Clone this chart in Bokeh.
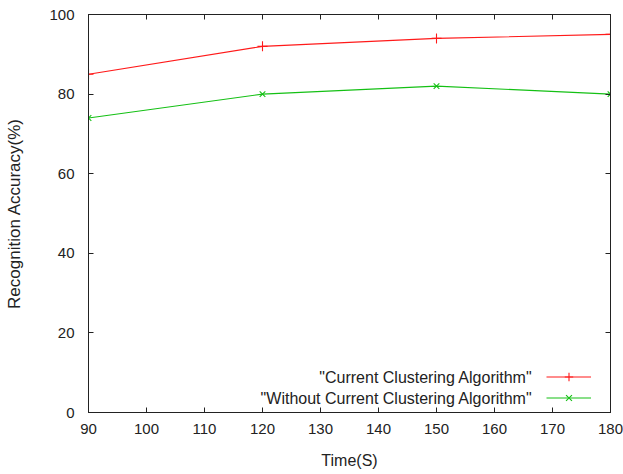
from bokeh.plotting import figure
from bokeh.models import LinearAxis, Range1d, Legend, LegendItem, Label, FixedTicker
from bokeh.embed import file_html
from bokeh.resources import INLINE

time_s = [90, 120, 150, 180]
current_alg = [85, 92, 94, 95]
without_alg = [74, 80, 82, 80]
x_ticks = [90, 100, 110, 120, 130, 140, 150, 160, 170, 180]
y_ticks = [0, 20, 40, 60, 80, 100]
series_names = ['"Current Clustering Algorithm"', '"Without Current Clustering Algorithm"']

FONT = "Liberation Sans"
FS = "15px"
TXT = "#222222"
AX = "#222222"

p = figure(width=623, height=474, output_backend="svg", toolbar_location=None,
           x_range=Range1d(90, 180), y_range=Range1d(0, 100),
           min_border_left=88, min_border_right=13, min_border_top=14, min_border_bottom=62)
p.xgrid.visible = False
p.ygrid.visible = False
p.outline_line_color = AX
p.outline_line_width = 1
p.background_fill_color = "white"
p.border_fill_color = "white"

xa = p.xaxis[0]
ya = p.yaxis[0]
xa.ticker = FixedTicker(ticks=x_ticks)
ya.ticker = FixedTicker(ticks=y_ticks)
for ax in (xa, ya):
    ax.major_tick_in = 5
    ax.major_tick_out = 0
    ax.minor_tick_line_color = None
    ax.axis_line_color = AX
    ax.major_tick_line_color = AX
    ax.major_label_text_font = FONT
    ax.major_label_text_font_size = FS
    ax.major_label_text_color = TXT
    ax.axis_label_text_font = FONT
    ax.axis_label_text_font_style = "normal"
    ax.axis_label_text_color = TXT
xa.axis_label_text_font_size = "16px"
ya.axis_label_text_font_size = "17px"
xa.axis_label = "Time(S)"
ya.axis_label = "Recognition Accuracy(%)"
xa.major_label_standoff = 11
ya.major_label_standoff = 14
xa.axis_label_standoff = 15
ya.axis_label_standoff = 22

top = LinearAxis(ticker=FixedTicker(ticks=x_ticks))
right = LinearAxis(ticker=FixedTicker(ticks=y_ticks))
for ax in (top, right):
    ax.major_tick_in = 5
    ax.major_tick_out = 0
    ax.minor_tick_line_color = None
    ax.axis_line_color = AX
    ax.major_tick_line_color = AX
    ax.major_label_text_font_size = "1px"
    ax.major_label_text_color = None
    ax.major_label_standoff = 0
p.add_layout(top, "above")
p.add_layout(right, "right")

r1 = p.line(time_s, current_alg, line_color="#ff1a1a", line_width=1.1)
m1 = p.scatter(time_s, current_alg, marker="cross", size=10, line_color="#ff1a1a", line_width=1.1)
r2 = p.line(time_s, without_alg, line_color="#14c014", line_width=1.1)
m2 = p.scatter(time_s, without_alg, marker="x", size=8, line_color="#14c014", line_width=1.1)

legend = Legend(items=[LegendItem(label=" ", renderers=[r1, m1]),
                       LegendItem(label=" ", renderers=[r2, m2])],
                location=(458, 4), glyph_width=45, glyph_height=21, spacing=0,
                padding=0, margin=0, label_width=0, label_standoff=0,
                border_line_color=None, background_fill_alpha=0,
                label_text_font_size="1px", label_text_color=None)
p.add_layout(legend, "center")

for i, name in enumerate(series_names):
    p.add_layout(Label(x=444, y=35 - 21 * i, x_units="screen", y_units="screen",
                       text=name, text_align="right", text_baseline="middle",
                       text_font=FONT, text_font_size="16px", text_color=TXT))

open("out.html", "w").write(file_html(p, INLINE))
